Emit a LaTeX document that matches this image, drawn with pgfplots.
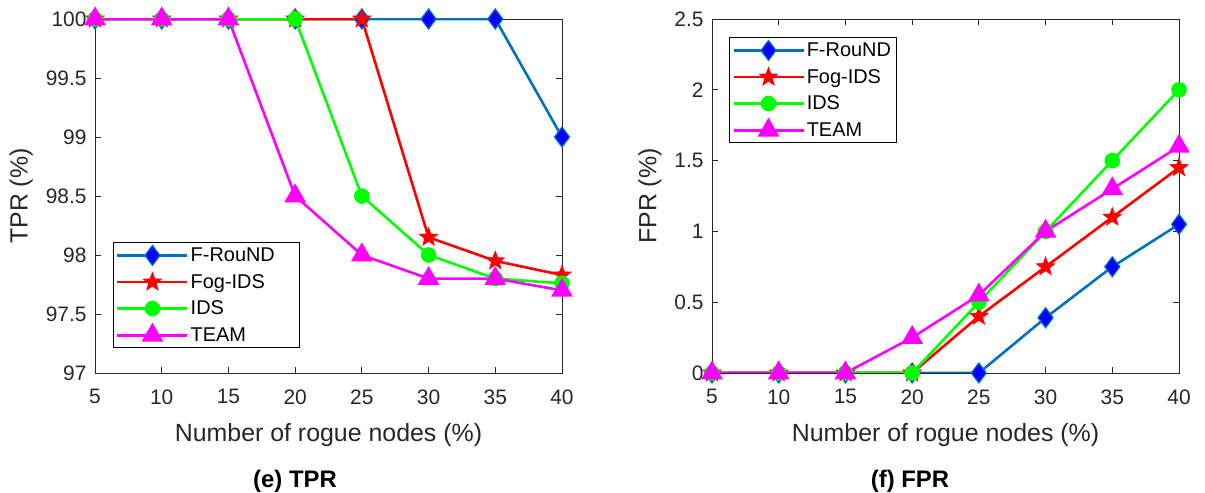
\documentclass[border=0pt]{standalone}
\usepackage{fontspec}
\setmainfont{Liberation Sans}
\usepackage{pgfplots}
\pgfplotsset{compat=1.18}
\definecolor{mblue}{rgb}{0,0.447,0.741}
\definecolor{mgray}{rgb}{0.15,0.15,0.15}
\definecolor{mred}{rgb}{1,0,0}
\definecolor{mgreen}{rgb}{0,1,0}
\definecolor{mmag}{rgb}{1,0,1}
\pgfdeclareplotmark{fstar}{%
  \pgfpathmoveto{\pgfqpointpolar{90}{\pgfplotmarksize}}%
  \pgfpathlineto{\pgfqpointpolar{126}{0.42\pgfplotmarksize}}%
  \pgfpathlineto{\pgfqpointpolar{162}{\pgfplotmarksize}}%
  \pgfpathlineto{\pgfqpointpolar{198}{0.42\pgfplotmarksize}}%
  \pgfpathlineto{\pgfqpointpolar{234}{\pgfplotmarksize}}%
  \pgfpathlineto{\pgfqpointpolar{270}{0.42\pgfplotmarksize}}%
  \pgfpathlineto{\pgfqpointpolar{306}{\pgfplotmarksize}}%
  \pgfpathlineto{\pgfqpointpolar{342}{0.42\pgfplotmarksize}}%
  \pgfpathlineto{\pgfqpointpolar{18}{\pgfplotmarksize}}%
  \pgfpathlineto{\pgfqpointpolar{54}{0.42\pgfplotmarksize}}%
  \pgfpathclose
  \pgfusepathqfillstroke
}
\pgfplotsset{
  myaxis/.style={
    scale only axis, width=467bp, height=354bp,
    xmin=5, xmax=40, xtick={5,10,...,40},
    tick align=inside,
    major tick length=6bp,
    axis line style={mgray, line width=0.8bp},
    tick style={mgray, line width=0.8bp},
    ticklabel style={mgray, font=\fontsize{21}{25}\selectfont},
    label style={mgray, font=\fontsize{25}{30}\selectfont},
    /pgf/number format/assume math mode=true,
    xticklabel style={yshift=-13bp},
    yticklabel style={xshift=-5bp, /pgf/number format/fixed},
    xlabel style={at={(axis description cs:0.5,-0.175)}, anchor=center},
    xlabel={Number of rogue nodes (\%)},
    every axis plot/.append style={line width=2.6bp},
    legend cell align=left,
    legend style={draw=black, line width=0.8bp, fill=white,
      font=\fontsize{20}{22}\selectfont, text=black,
      inner xsep=3bp, inner ysep=3bp, row sep=7bp},
    legend image code/.code={\draw[mark repeat=2,mark phase=2] plot coordinates {(0bp,0bp)(35bp,0bp)(70bp,0bp)};},
  },
  sF/.style={mblue, mark=diamond*, mark size=10bp, mark options={fill=blue, draw=mblue, line width=1.2bp}},
  sG/.style={mred, mark=fstar, mark size=9.5bp, mark options={fill=mred, draw=mred, line width=0.8bp}},
  sI/.style={mgreen, mark=*, mark size=6.5bp, mark options={fill=mgreen, draw=mgreen}},
  sT/.style={mmag, mark=triangle*, mark size=10bp, mark options={fill=mmag, draw=mmag}},
}
\begin{document}
\begin{tikzpicture}
\path[use as bounding box] (0,0) rectangle (1205bp,493bp);
\begin{axis}[myaxis, at={(95bp,120bp)}, anchor=south west,
  ymin=97, ymax=100, ytick={97,97.5,...,100},
  ylabel={TPR (\%)},
  ylabel style={at={(axis description cs:-0.158,0.5)}, anchor=center},
  legend style={at={(0.038,0.37)}, anchor=north west}]
\addplot[sF] coordinates {(5,100)(10,100)(15,100)(20,100)(25,100)(30,100)(35,100)(40,99)};
\addlegendentry{F-RouND\hspace*{20bp}}
\addplot[sG] coordinates {(5,100)(10,100)(15,100)(20,100)(25,100)(30,98.15)(35,97.95)(40,97.83)};
\addlegendentry{Fog-IDS}
\addplot[sI] coordinates {(5,100)(10,100)(15,100)(20,100)(25,98.5)(30,98)(35,97.8)(40,97.76)};
\addlegendentry{IDS}
\addplot[sT] coordinates {(5,100)(10,100)(15,100)(20,98.5)(25,98)(30,97.8)(35,97.8)(40,97.7)};
\addlegendentry{TEAM}
\end{axis}
\begin{axis}[myaxis, at={(712bp,120bp)}, anchor=south west,
  ymin=0, ymax=2.5, ytick={0,0.5,...,2.5},
  ylabel={FPR (\%)},
  ylabel style={at={(axis description cs:-0.133,0.5)}, anchor=center},
  legend style={at={(0.036,0.949)}, anchor=north west}]
\addplot[sF] coordinates {(5,0)(10,0)(15,0)(20,0)(25,0)(30,0.39)(35,0.75)(40,1.05)};
\addlegendentry{F-RouND}
\addplot[sG] coordinates {(5,0)(10,0)(15,0)(20,0)(25,0.4)(30,0.75)(35,1.1)(40,1.45)};
\addlegendentry{Fog-IDS}
\addplot[sI] coordinates {(5,0)(10,0)(15,0)(20,0)(25,0.5)(30,1.0)(35,1.5)(40,2.0)};
\addlegendentry{IDS}
\addplot[sT] coordinates {(5,0)(10,0)(15,0)(20,0.25)(25,0.55)(30,1.0)(35,1.3)(40,1.6)};
\addlegendentry{TEAM}
\end{axis}
\node[font=\bfseries\fontsize{24}{29}\selectfont, text=black, anchor=base] at (295bp,6bp) {(e) TPR};
\node[font=\bfseries\fontsize{24}{29}\selectfont, text=black, anchor=base] at (910bp,6bp) {(f) FPR};
\end{tikzpicture}
\end{document}
